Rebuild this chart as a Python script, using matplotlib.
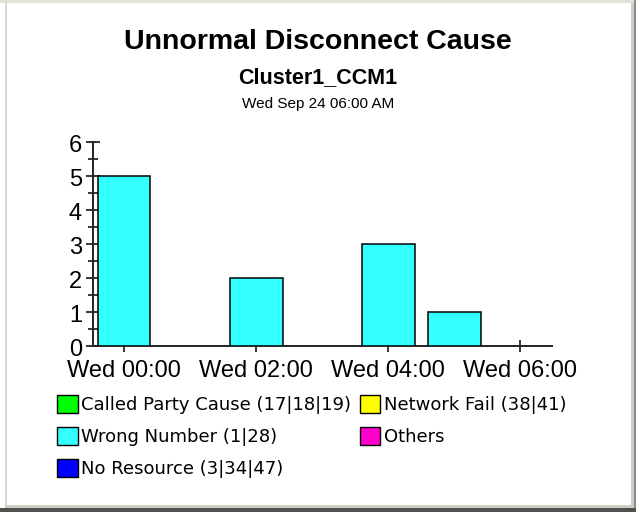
import matplotlib
matplotlib.use("Agg")
import matplotlib.pyplot as plt
from matplotlib.patches import Patch, Rectangle
from matplotlib.ticker import MultipleLocator, FuncFormatter
from matplotlib.transforms import ScaledTranslation

plt.rcParams.update({"font.family": ["Liberation Sans", "DejaVu Sans"]})

# data
HOURS = [0, 2, 4, 5]                 # hours after Wed 00:00
WRONG_NUMBER = [5, 2, 3, 1]
XTICK_HOURS = [0, 2, 4, 6]
XTICK_LABELS = ["Wed 00:00", "Wed 02:00", "Wed 04:00", "Wed 06:00"]

LEG_LABELS = ["Called Party Cause (17|18|19)", "Wrong Number (1|28)", "No Resource (3|34|47)",
              "Network Fail (38|41)", "Others"]
LEG_COLORS = ["#00ff00", "#33ffff", "#0000ff", "#ffff00", "#ff00cc"]

W, H = 636, 512
fig = plt.figure(figsize=(W / 100, H / 100), dpi=100)

# sunken window frame
def rect(x0, y0, x1, y1, c):
    fig.patches.append(Rectangle((x0 / W, 1 - y1 / H), (x1 - x0) / W, (y1 - y0) / H,
                                 transform=fig.transFigure, color=c, lw=0, zorder=0))
rect(0, 0, W, 3, "#e4e1da")
rect(5, 3, 7, 505, "#dcd8d0")
rect(631, 3, 634, 508, "#d0ccc4")
rect(634, 0, 636, 512, "#8a8a8a")
rect(5, 505, 634, 508, "#d0ccc4")
rect(0, 508, 636, 512, "#505050")

fig.text(0.5, 1 - 42 / H, "Unnormal Disconnect Cause", ha="center", va="center",
         fontsize=20.5, fontweight="bold")
fig.text(0.5, 1 - 78 / H, "Cluster1_CCM1", ha="center", va="center",
         fontsize=15.5, fontweight="bold")
fig.text(0.5, 1 - 104 / H, "Wed Sep 24 06:00 AM", ha="center", va="center", fontsize=11)

ax = fig.add_axes([93 / W, 1 - 345.7 / H, (552 - 93) / W, (345.7 - 142) / H])
ax.bar(HOURS, WRONG_NUMBER, width=0.8, color="#33ffff", edgecolor="black", lw=1.1, zorder=3)
ax.set_xlim(-0.47, 6.48)
ax.set_ylim(0, 6)
for s in ("top", "right"):
    ax.spines[s].set_visible(False)
for s in ("left", "bottom"):
    ax.spines[s].set_linewidth(1.4)
    ax.spines[s].set_color("#222222")
ax.set_xticks(XTICK_HOURS)
ax.set_xticklabels(XTICK_LABELS)
ax.yaxis.set_major_locator(MultipleLocator(1))
ax.yaxis.set_minor_locator(MultipleLocator(0.5))
ax.yaxis.set_major_formatter(FuncFormatter(lambda v, _: f"{v:.0f}"))
ax.tick_params(axis="x", direction="inout", length=9, width=1.1, labelsize=17, pad=6)
ax.tick_params(axis="y", which="major", direction="inout", length=10, width=1.1,
               labelsize=17, pad=3)
ax.tick_params(axis="y", which="minor", direction="inout", length=7, width=1.1)
ax.set_facecolor("none")
shift = ScaledTranslation(0, -2 / 100, fig.dpi_scale_trans)
for lab in ax.get_yticklabels():
    lab.set_transform(lab.get_transform() + shift)

handles = [Patch(facecolor=c, edgecolor="black", lw=1.0) for c in LEG_COLORS]
fig.legend(handles, LEG_LABELS, ncol=2, loc="upper left",
           bbox_to_anchor=(48 / W, 1 - 386 / H), frameon=False,
           prop={"family": "DejaVu Sans", "size": 13},
           handlelength=1.15, handleheight=1.15, handletextpad=0.2,
           columnspacing=0.45, labelspacing=0.72, borderpad=0)

fig.savefig("out.png", dpi=100)
